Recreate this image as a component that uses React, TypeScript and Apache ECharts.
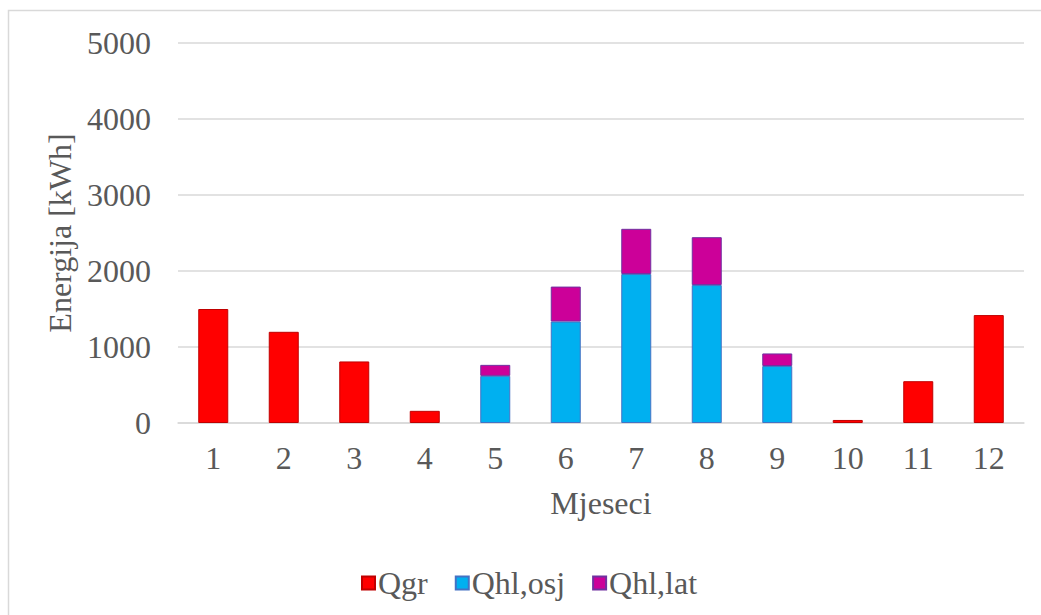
import React, { useEffect, useRef } from "react";
import * as echarts from "echarts";

const months = ["1", "2", "3", "4", "5", "6", "7", "8", "9", "10", "11", "12"];
const qgr = [1500, 1200, 810, 160, 0, 0, 0, 0, 0, 40, 550, 1420];
const qhlOsj = [0, 0, 0, 0, 620, 1335, 1960, 1815, 750, 0, 0, 0];
const qhlLat = [0, 0, 0, 0, 145, 460, 595, 630, 165, 0, 0, 0];
const yTicks = { min: 0, max: 5000, interval: 1000 };

const FONT = "Liberation Serif";
const TXT = "#595959";
const FS = 32;

export default function App() {
  const ref = useRef<HTMLDivElement>(null);
  useEffect(() => {
    if (!ref.current) return;
    const chart = echarts.init(ref.current, null, { renderer: "svg" });
    const toData = (arr: number[]) => arr.map((v) => (v === 0 ? null : v));
    chart.setOption({
      animation: false,
      backgroundColor: "#ffffff",
      textStyle: { fontFamily: FONT },
      graphic: [
        {
          type: "rect",
          shape: { x: 8.5, y: 10.5, width: 1100, height: 700 },
          style: { fill: "none", stroke: "#d9d9d9", lineWidth: 1.5 },
          silent: true,
        },
      ],
      grid: { left: 178, right: 17, top: 43, bottom: 192, containLabel: false },
      legend: {
        left: 356,
        top: 562,
        icon: "rect",
        itemWidth: 13,
        itemHeight: 13,
        itemGap: 27,
        textStyle: { fontFamily: FONT, fontSize: FS, color: TXT, padding: [0, 0, 0, -2] },
        data: ["Qgr", "Qhl,osj", "Qhl,lat"],
      },
      xAxis: {
        type: "category",
        data: months,
        name: "Mjeseci",
        nameLocation: "middle",
        nameGap: 64,
        nameTextStyle: { fontFamily: FONT, fontSize: FS, color: TXT },
        axisLine: { show: true, lineStyle: { color: "#d9d9d9", width: 1.5 } },
        axisTick: { show: false },
        axisLabel: { fontFamily: FONT, fontSize: FS, color: TXT, margin: 19 },
      },
      yAxis: {
        type: "value",
        min: yTicks.min,
        max: yTicks.max,
        interval: yTicks.interval,
        name: "Energija [kWh]",
        nameLocation: "middle",
        nameGap: 98,
        nameRotate: 90,
        nameTextStyle: { fontFamily: FONT, fontSize: FS, color: TXT },
        axisLine: { show: false },
        axisTick: { show: false },
        axisLabel: {
          fontFamily: FONT,
          fontSize: FS,
          color: TXT,
          margin: 27,
          formatter: (v: number) => String(v),
        },
        splitLine: { lineStyle: { color: "#d9d9d9", width: 1.5 } },
      },
      series: [
        {
          name: "Qgr",
          type: "bar",
          stack: "total",
          barWidth: 30,
          data: toData(qgr),
          itemStyle: { color: "#ff0000", borderColor: "#c00000", borderWidth: 1 },
        },
        {
          name: "Qhl,osj",
          type: "bar",
          stack: "total",
          barWidth: 30,
          data: toData(qhlOsj),
          itemStyle: { color: "#00b0f0", borderColor: "#4472c4", borderWidth: 1 },
        },
        {
          name: "Qhl,lat",
          type: "bar",
          stack: "total",
          barWidth: 30,
          data: toData(qhlLat),
          itemStyle: { color: "#cc0099", borderColor: "#7030a0", borderWidth: 1 },
        },
      ],
    });
    return () => chart.dispose();
  }, []);
  return (
    <div
      ref={ref}
      style={{ position: "absolute", left: 0, top: 0, width: 1041, height: 615 }}
    />
  );
}
